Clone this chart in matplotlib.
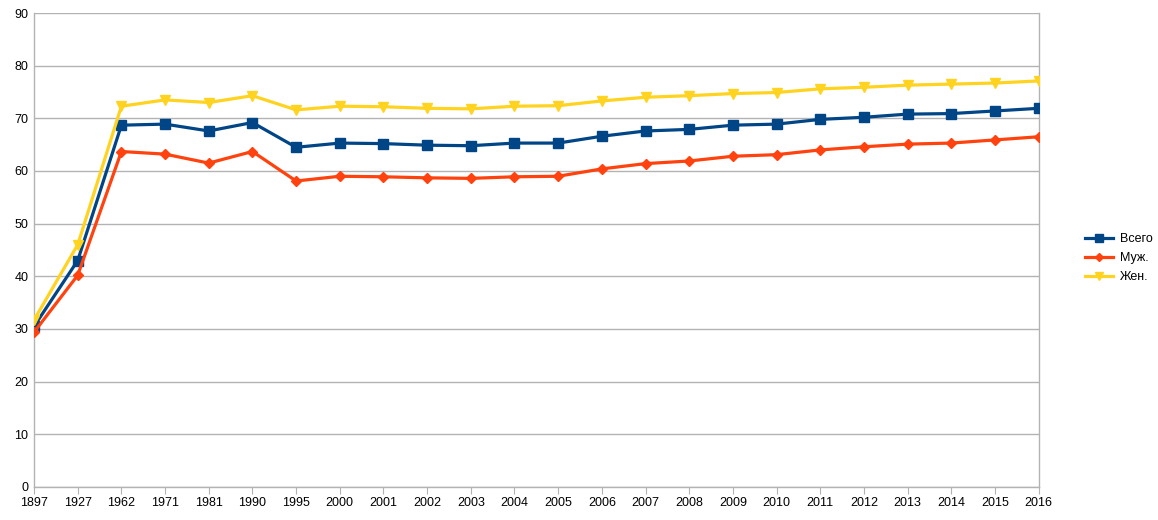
import matplotlib
matplotlib.use("Agg")
import matplotlib.pyplot as plt

years = ["1897", "1927", "1962", "1971", "1981", "1990", "1995", "2000", "2001", "2002",
         "2003", "2004", "2005", "2006", "2007", "2008", "2009", "2010", "2011", "2012",
         "2013", "2014", "2015", "2016"]
total = [30.5, 43.0, 68.7, 68.9, 67.6, 69.2, 64.5, 65.3, 65.2, 64.9, 64.8, 65.3, 65.3,
         66.6, 67.6, 67.9, 68.7, 68.9, 69.8, 70.2, 70.8, 70.9, 71.4, 71.9]
men = [29.4, 40.2, 63.7, 63.2, 61.5, 63.7, 58.1, 59.0, 58.9, 58.7, 58.6, 58.9, 59.0,
       60.4, 61.4, 61.9, 62.8, 63.1, 64.0, 64.6, 65.1, 65.3, 65.9, 66.5]
women = [31.7, 46.0, 72.3, 73.5, 73.0, 74.3, 71.6, 72.3, 72.2, 71.9, 71.8, 72.3, 72.4,
         73.3, 74.0, 74.3, 74.7, 74.9, 75.6, 75.9, 76.3, 76.5, 76.7, 77.1]
labels = ["Всего", "Муж.", "Жен."]

plt.rcParams['font.family'] = ['Liberation Sans', 'DejaVu Sans']

fig = plt.figure(figsize=(11.58, 5.2), dpi=100)
ax = fig.add_axes([0.0294, 0.0635, 0.8675, 0.9115])
x = list(range(len(years)))

ax.plot(x, total, color="#004586", lw=2.3, marker="s", ms=7.5, label=labels[0], zorder=3)
ax.plot(x, men, color="#ff420e", lw=2.3, marker="D", ms=5.5, label=labels[1], zorder=3)
ax.plot(x, women, color="#ffd320", lw=2.3, marker="v", ms=7.5, label=labels[2], zorder=3)

ax.set_xlim(0, len(years) - 1)
ax.set_ylim(0, 90)
ax.set_yticks(range(0, 91, 10))
ax.set_xticks(x)
ax.set_xticklabels(years)
ax.grid(axis="y", color="#b3b3b3", lw=1)
ax.set_axisbelow(True)
ax.spines["top"].set_visible(False)
for s in ["left", "right", "bottom"]:
    ax.spines[s].set_color("#b3b3b3")
    ax.spines[s].set_linewidth(1)
ax.tick_params(axis="x", length=5, color="#b3b3b3", labelsize=9, pad=2)
ax.tick_params(axis="y", length=0, labelsize=9, pad=4)

leg = ax.legend(loc="center left", bbox_to_anchor=(1.035, 0.483), frameon=False,
                fontsize=9, handlelength=2.2, labelspacing=0.55, handletextpad=0.6,
                markerscale=0.8)

fig.savefig("out.png", dpi=100, facecolor="white")
